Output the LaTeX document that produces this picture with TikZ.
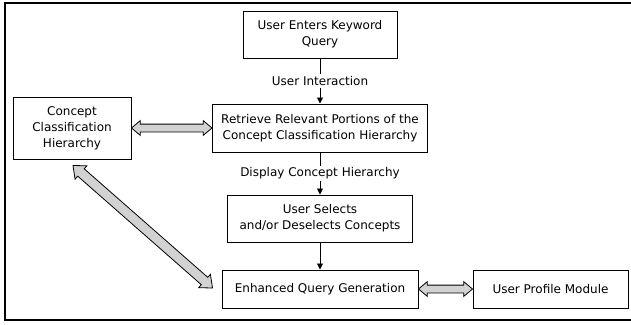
\documentclass[tikz,border=0pt]{standalone}
\usepackage{fontspec}
\setmainfont{DejaVu Sans}
\usetikzlibrary{arrows.meta,calc,shapes.arrows}
\definecolor{colFat}{HTML}{D2D2D2}
\tikzset{
  sbox/.style={draw=black,line width=1pt,fill=white,align=center,inner sep=2pt,
    font=\fontsize{12}{16}\selectfont},
  sarr/.style={-{Triangle[length=6pt,width=6pt]},line width=0.9pt},
  slab/.style={fill=white,inner sep=2pt,font=\fontsize{12}{14}\selectfont},
  fatarr/.style={double arrow,draw=black,line width=0.8pt,fill=colFat,
    double arrow head extend=3.5pt,double arrow tip angle=80,
    inner xsep=0pt,inner ysep=3.5pt},
}
\newcommand{\fatlink}[3][]{%
  \path let \p1=($(#3)-(#2)$), \n1={atan2(\y1,\x1)}, \n2={veclen(\x1,\y1)} in
    node[fatarr,minimum height=\n2,rotate=\n1,#1] at ($(#2)!0.5!(#3)$) {};}

\begin{document}
\begin{tikzpicture}[x=1pt,y=-1pt]
  \useasboundingbox (0,0) rectangle (631,324);
  \draw[line width=1.2pt] (634,3) -- (5,3) -- (5,320) -- (634,320);
  % boxes
  \node[sbox,minimum width=154,minimum height=47] (query) at (320,34.5)
    {User Enters Keyword\\Query};
  \node[sbox,minimum width=215,minimum height=48] (retr) at (320,128)
    {Retrieve Relevant Portions of the\\Concept Classification Hierarchy};
  \node[sbox,minimum width=118,minimum height=62] (cch) at (72,128)
    {Concept\\Classification\\Hierarchy};
  \node[sbox,minimum width=185,minimum height=47] (sel) at (320,218.5)
    {User Selects\\and/or Deselects Concepts};
  \node[sbox,minimum width=196,minimum height=38] (enh) at (320,289)
    {Enhanced Query Generation};
  \node[sbox,minimum width=155,minimum height=38] (prof) at (550.5,289)
    {User Profile Module};
  % flow
  \draw[sarr] (query) -- node[slab] {User Interaction} (retr);
  \draw[sarr] (retr) -- node[slab] {Display Concept Hierarchy} (sel);
  \draw[sarr] (sel) -- (enh);
  % two-way links
  \coordinate (dA) at ($(cch.south)+(1,6)$);
  \coordinate (dB) at ($(enh.west)+(-9,-1)$);
  \fatlink{cch.east}{retr.west}
  \fatlink{enh.east}{prof.west}
  \fatlink[inner ysep=4.5pt,double arrow head extend=4pt]{dA}{dB}
\end{tikzpicture}
\end{document}
